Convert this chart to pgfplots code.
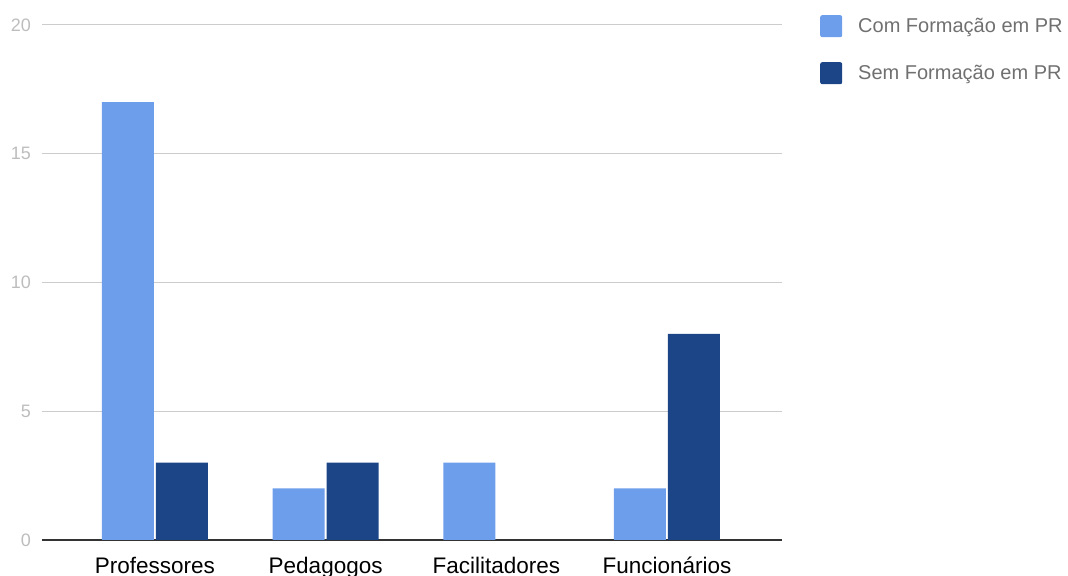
\documentclass[border=0pt]{standalone}
\usepackage{pgfplots}
\pgfplotsset{compat=1.18}
\usepackage{fontspec}
\setmainfont{Liberation Sans}
\definecolor{lightb}{HTML}{6D9EEB}
\definecolor{darkb}{HTML}{1C4587}
\definecolor{gridc}{HTML}{CCCCCC}
\definecolor{tickc}{HTML}{BDBDBD}
\definecolor{legc}{HTML}{707070}
\definecolor{basec}{HTML}{333333}
\pgfplotsset{sqlegend/.style={legend image code/.code={\path[##1,draw=none,rounded corners=2bp] (0bp,-11bp) rectangle (22bp,11bp);}}}
\begin{document}
\begin{tikzpicture}
\useasboundingbox (0,0) rectangle (1068bp,576bp);
\begin{axis}[
  at={(42bp,36bp)}, anchor=south west,
  scale only axis, width=740bp, height=515bp,
  xmin=-0.662, xmax=3.674, ymin=0, ymax=20,
  xtick={0,1,2,3},
  xticklabels={Professores,Pedagogos,Facilitadores,Funcionários},
  ytick={5,10,15,20},
  extra y ticks={0},
  extra y tick style={major grid style={color=basec, line width=1.5bp}},
  ymajorgrids, major grid style={color=gridc, line width=1bp},
  major tick length=0pt,
  axis line style={draw=none},
  /pgf/number format/assume math mode=true,
  xticklabel style={anchor=base, yshift=-33bp, font=\fontsize{22.5bp}{26bp}\selectfont, text=black},
  yticklabel style={anchor=east, inner sep=0pt, xshift=-11bp, font=\fontsize{18bp}{20bp}\selectfont, text=tickc},
  legend style={at={(1,1)}, anchor=north west, xshift=38bp, yshift=10bp, draw=none, fill=none,
    font=\fontsize{20bp}{24bp}\selectfont, text=legc, row sep=25bp, inner sep=0pt,
    nodes={inner xsep=16bp, inner ysep=0pt}},
  legend cell align=left,
  ybar, bar width=52bp,
]
\addplot[fill=lightb, draw=none, bar shift=-27bp, sqlegend] coordinates {(0,17) (1,2) (2,3) (3,2)};
\addplot[fill=darkb, draw=none, bar shift=27bp, sqlegend] coordinates {(0,3) (1,3) (2,0) (3,8)};
\legend{Com Formação em PR, Sem Formação em PR}
\end{axis}
\end{tikzpicture}
\end{document}
